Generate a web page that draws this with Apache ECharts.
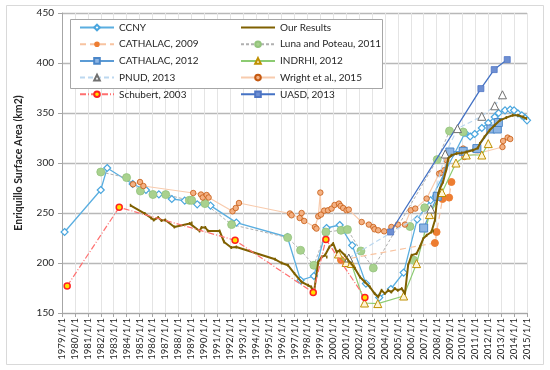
<!DOCTYPE html>
<html>
<head>
<meta charset="utf-8">
<script src="https://cdn.jsdelivr.net/npm/echarts@6/dist/echarts.min.js"></script>
<style>html,body{margin:0;padding:0;background:#fff}#c{width:550px;height:370px}</style>
</head>
<body>
<div id="c"></div>
<script>
// ---- data (x = decimal year, y = km2) ----
const ccnyX = [1979.2,1982.0,1982.5,1984.47,1985.5,1986.5,1987.5,1988.5,1989.47,1990.5,1992.5,1996.45,1997.47,1998.5,1999.48,2000.5,2001.47,2002.53,2003.56,2004.46,2005.45,2006.5,2007.53,2010.2,2010.6,2010.95,2011.5,2012.0,2012.5,2012.8,2013.3,2013.7,2014.0,2014.3,2014.6,2014.85,2015.0];
const ccnyY = [231,273,295,279,273,268.7,264,262.4,258.7,257.4,240.4,226,182.7,187,235,238,217.7,179.4,165.4,174,190.4,243.7,262.7,330,326.5,329,335,340,346,350,352.7,353.4,352.7,349.5,347.7,345,342.7];

const ourX = [1984.3,1985.41,1985.9,1986.1,1986.45,1986.7,1987.0,1987.7,1988.9,1989.05,1989.65,1989.8,1990.1,1990.3,1991.2,1991.55,1992.1,1992.5,1995.5,1996.0,1996.5,1997.0,1997.55,1998.06,1998.3,1998.5,1998.6,1998.84,1999.1,1999.36,1999.5,1999.7,2000.0,2000.26,2000.5,2000.9,2001.16,2001.4,2001.68,2002.07,2002.45,2002.84,2003.2,2003.48,2003.74,2004.0,2004.26,2004.5,2004.77,2005.0,2005.3,2005.55,2005.8,2006.06,2006.45,2006.7,2006.97,2007.23,2007.6,2007.74,2007.87,2008.0,2008.13,2008.26,2008.5,2008.77,2008.9,2009.15,2009.55,2009.94,2010.3,2010.8,2011.2,2011.35,2011.7,2012.1,2012.5,2012.9,2013.4,2013.9,2014.3,2014.7,2014.96];
const ourY = [257.7,249.4,245,243,245.5,242.5,243,236,239.4,240,232,235.5,235.5,232,232,221,215.5,216,203.7,200,197.7,189.4,181,177.7,176,170,171,201,206,207.7,206,216,219.4,211,212.7,207.7,202.7,199.4,194.4,186,181,176,169.4,166,172.7,169.4,172.7,171,174.4,172.7,174.4,169.4,198,207.7,209.4,216,224.4,227.7,231,232,242.7,259.4,269.4,274.4,281,294.4,304.4,307.7,309.4,310,311,312.7,315,319.4,326,332.7,337.7,342.7,345.4,347.7,347.7,346,344.4];

const cath09X = [2000.6,2007.87,2008.0,2008.46,2008.97,2009.15];
const cath09Y = [203,220,231,264,265.4,281];

// '-' entries are gaps: the three stray points are not joined by the dashed line
const lunaX = [1982.0,1984.0,1985.07,1986.04,1987.03,1988.86,1989.04,1990.07,1992.13,1996.47,1997.47,1998.5,1999.43,2000.6,2001.1,2002.14,2003.1,2008.05,2009.0,2010.06,'-',2005.94,'-',2006.24,'-',2007.08];
const lunaY = [291,285.4,272,268.5,268.4,262.7,262.7,259.4,238.4,225.4,212.7,197.7,231,232.7,233.4,212,195,303.4,332,331,'-',236.5,'-',202.7,'-',255.2];

const cath12X = [2007.0,2008.05,2009.03,2010.06,2011.12,2012.2,2012.7,2012.78];
const cath12Y = [235,266.7,311,311.7,314.4,334,334,340.5];

const indrhiX = [2000.4,2001.0,2001.4,2002.42,2003.45,2005.45,2006.45,2007.45,2008.42,2009.5,2010.3,2011.5,2012.0];
const indrhiY = [209,200.5,199.5,160,159.4,167,199.4,248.4,270.5,300,308,308,319.4];

const pnudX = [2001.2,2007.55,2008.67,2009.62,2011.5,2012.5,2013.1];
const pnudY = [205,254,309,334.4,346.7,357.2,368.2];

const wrightX = [1984.5,1985.04,1985.3,1989.16,1989.76,1989.9,1990.2,1990.35,1992.2,1992.45,1992.7,1996.65,1996.77,1997.4,1997.55,1997.75,1998.58,1998.7,1998.84,1999.0,1999.05,1999.3,1999.6,1999.87,2000.1,2000.44,2000.57,2000.77,2001.03,2001.2,2002.2,2002.76,2003.1,2003.2,2003.48,2003.94,2004.5,2005.0,2005.55,2006.0,2006.35,2007.23,2008.2,2008.38,2008.58,2008.75,2010.06,2010.15,2013.1,2013.15,2013.5,2013.7];
const wrightY = [278.7,281,277,270,268.5,265.5,268,265.5,251.7,255,260,249.5,247.7,245,250,242,236,234.4,246.7,270.4,248.4,252.4,252.7,254.4,258,259.4,257,255,252.7,253.4,241,238.4,236,233.7,232.7,231.7,236,238.4,238.4,252.7,254.4,264.4,289.4,290.4,292.7,303,314.4,306,316,322,325.4,324];

const schubX = [1979.4,1983.43,1992.4,1998.45,1999.43,2002.45];
const schubY = [177,255.7,222.7,170.4,223.6,165.4];

const uasdX = [2004.44,2011.43,2012.46,2013.47];
const uasdY = [231,374.4,393.4,403.4];

const yTicks = [150,200,250,300,350,400,450];
const xStart = 1979, xEnd = 2015;
const yTitle = 'Enriquillo Surface Area (km2)';
const legendCol1 = ['CCNY','CATHALAC, 2009','CATHALAC, 2012','PNUD, 2013','Schubert, 2003'];
const legendCol2 = ['Our Results','Luna and Poteau, 2011','INDRHI, 2012','Wright et al., 2015','UASD, 2013'];

// ---- chart ----
const FONT = 'Lato';
function pts(xs, ys){ return xs.map((x,i)=>[x, ys[i]]); }

const series = [
  {name:'CCNY', data:pts(ccnyX,ccnyY), symbol:'diamond', symbolSize:7,
   lineStyle:{color:'#5AAEE0', width:1.3}, itemStyle:{color:'#fff', borderColor:'#4AA6DE', borderWidth:1.2}, z:3},
  {name:'Our Results', data:pts(ourX,ourY), symbol:'rect', symbolSize:[1.5,3],
   lineStyle:{color:'#7F6000', width:2}, itemStyle:{color:'#7F6000'}, z:6},
  {name:'CATHALAC, 2009', data:pts(cath09X,cath09Y), symbol:'circle', symbolSize:7,
   lineStyle:{color:'#F8C3A0', width:1.2, type:[6,4]}, itemStyle:{color:'#ED7D31', borderColor:'#ED7D31'}, z:4},
  {name:'Luna and Poteau, 2011', data:pts(lunaX,lunaY), symbol:'circle', symbolSize:8,
   lineStyle:{color:'#B0B0B0', width:1, type:[3,2]}, itemStyle:{color:'#A9D18E', borderColor:'#93C47D', borderWidth:0.8}, z:3},
  {name:'CATHALAC, 2012', data:pts(cath12X,cath12Y), symbol:'rect', symbolSize:8,
   lineStyle:{color:'#5B9BD5', width:1.3}, itemStyle:{color:'#8FB6E4', borderColor:'#4A86C8', borderWidth:1}, z:5},
  {name:'INDRHI, 2012', data:pts(indrhiX,indrhiY), symbol:'triangle', symbolSize:8,
   lineStyle:{color:'#8CCB72', width:1.2}, itemStyle:{color:'#FFF5D6', borderColor:'#BF9000', borderWidth:1}, z:5},
  {name:'PNUD, 2013', data:pts(pnudX,pnudY), symbol:'triangle', symbolSize:8,
   lineStyle:{color:'#BCD8F0', width:1.2, type:[5,3]}, itemStyle:{color:'#fff', borderColor:'#707070', borderWidth:1}, z:5},
  {name:'Wright et al., 2015', data:pts(wrightX,wrightY), symbol:'circle', symbolSize:5.5,
   lineStyle:{color:'#F8CBAD', width:1.2}, itemStyle:{color:'#F4B183', borderColor:'#C55A11', borderWidth:0.8}, z:4},
  {name:'Schubert, 2003', data:pts(schubX,schubY), symbol:'circle', symbolSize:6,
   lineStyle:{color:'#FF6F6F', width:1.2, type:[6,2,1,2]}, itemStyle:{color:'#FFE000', borderColor:'#FF2020', borderWidth:1.5}, z:7},
  {name:'UASD, 2013', data:pts(uasdX,uasdY), symbol:'rect', symbolSize:6,
   lineStyle:{color:'#4472C4', width:1.3}, itemStyle:{color:'#6E8FD2', borderColor:'#4F75C4', borderWidth:0.8}, z:5}
].map(s => Object.assign({type:'line', showAllSymbol:true, connectNulls:false, animation:false, emphasis:{disabled:true}}, s));

const legendCommon = {
  orient:'vertical', itemWidth:34, itemHeight:7, itemGap:6.7, padding:0,
  textStyle:{fontFamily:FONT, fontSize:10, color:'#262626'}, z:10
};
function legItems(names){
  return names.map(n => n === 'Our Results' ? {name:n, itemStyle:{opacity:0}} : {name:n});
}

const chart = echarts.init(document.getElementById('c'), null, {renderer:'canvas'});
chart.setOption({
  backgroundColor:'#fff',
  animation:false,
  textStyle:{fontFamily:FONT},
  grid:{left:62, right:23, top:13, bottom:57, containLabel:false},
  xAxis:{
    type:'value', min:xStart, max:xEnd, interval:1,
    axisLine:{show:true, onZero:false, lineStyle:{color:'#A6A6A6'}},
    axisTick:{show:true, length:4, lineStyle:{color:'#A6A6A6'}},
    axisLabel:{rotate:90, margin:5, fontFamily:FONT, fontSize:9.5, color:'#262626',
      formatter:v => v + '/1/1'},
    splitLine:{show:true, lineStyle:{color:'#E4E4E4', width:1}}
  },
  yAxis:{
    type:'value', min:yTicks[0], max:yTicks[yTicks.length-1], interval:50,
    name:yTitle, nameLocation:'middle', nameGap:38,
    nameTextStyle:{fontFamily:FONT, fontSize:10.5, fontWeight:'bold', color:'#262626'},
    axisLine:{show:true, lineStyle:{color:'#A6A6A6'}},
    axisTick:{show:true, length:4, lineStyle:{color:'#A6A6A6'}},
    axisLabel:{margin:8, fontFamily:FONT, fontSize:10, color:'#262626'},
    splitLine:{show:true, lineStyle:{color:'#B8B8B8', width:1.4}}
  },
  legend:[
    Object.assign({left:79, top:22.5, data:legItems(legendCol1)}, legendCommon),
    Object.assign({left:240, top:22.5, data:legItems(legendCol2)}, legendCommon)
  ],
  graphic:[
    {type:'rect', z:1, silent:true, shape:{x:6.5, y:5.5, width:537, height:359},
     style:{fill:'none', stroke:'#D9D9D9', lineWidth:1}},
    {type:'rect', z:9, silent:true, shape:{x:70.5, y:19.5, width:312, height:69},
     style:{fill:'#fff', stroke:'#A6A6A6', lineWidth:1}}
  ],
  series: series
});
</script>
</body>
</html>
